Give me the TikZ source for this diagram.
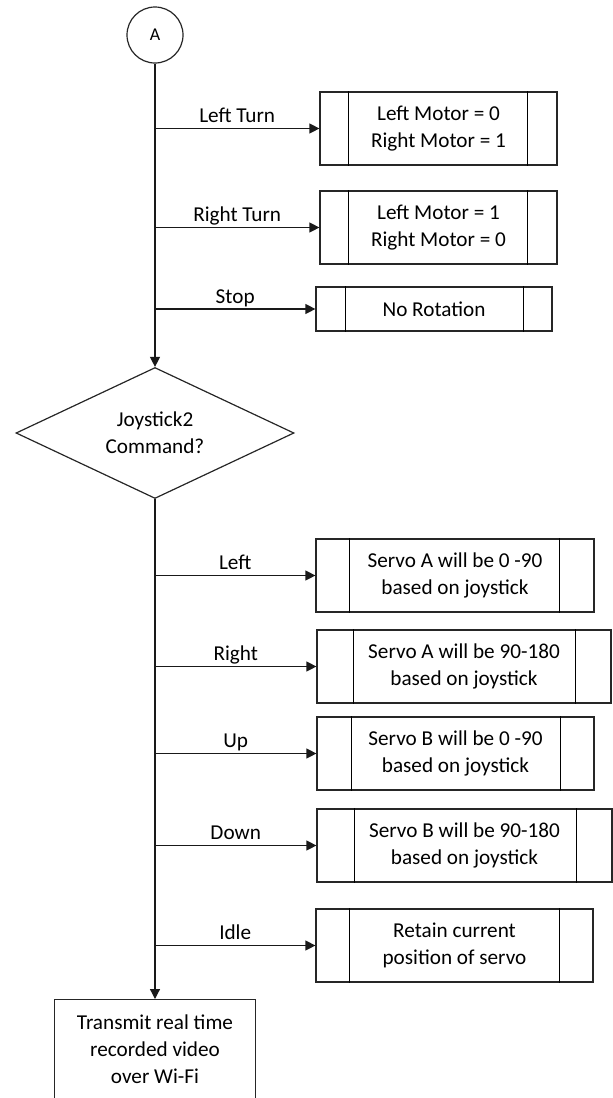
\documentclass[tikz,border=0pt]{standalone}
\usepackage{fontspec}
\setmainfont{Carlito}
\usetikzlibrary{arrows.meta,shapes.geometric}
\newcommand\pplines[3]{%
  \draw ([xshift=#2pt]#1.north west) -- ([xshift=#2pt]#1.south west);
  \draw ([xshift=-#3pt]#1.north east) -- ([xshift=-#3pt]#1.south east);}
\begin{document}
\begin{tikzpicture}[x=1pt,y=-1pt,
  line width=1.2pt,
  every node/.style={font=\fontsize{21.2}{27}\selectfont, text=black},
  proc/.style={draw=black!85, rectangle, inner sep=0pt, align=center, minimum height=73pt},
  arr/.style={draw=black!90, -{Triangle[length=10pt,width=10pt]}},
  lbl/.style={above, inner sep=1pt, text height=14pt, text depth=4pt}
]
\useasboundingbox (0,0) rectangle (613,1098);
\clip (0,0) rectangle (613,1098);

\node[draw=black!85, circle, minimum size=56pt, inner sep=0pt, font=\fontsize{18}{20}\selectfont] (A) at (155,35) {A};

\node[proc, minimum width=237pt] (b1) at (438.5,128.5) {Left Motor = 0\\Right Motor = 1};
\pplines{b1}{29}{30}
\node[proc, minimum width=237pt] (b2) at (438.5,227.5) {Left Motor = 1\\Right Motor = 0};
\pplines{b2}{29}{30}
\node[proc, minimum width=236pt, minimum height=44pt] (b3) at (434,309) {No Rotation};
\pplines{b3}{30}{29}

\node[draw=black!85, diamond, aspect=2.12, minimum width=278pt, minimum height=131pt, inner sep=0pt, align=center] (d) at (155,433) {Joystick2\\Command?};

\node[proc, minimum width=278pt] (s1) at (455,575.5) {Servo A will be 0 -90\\based on joystick};
\pplines{s1}{34}{35}
\node[proc, minimum width=294pt] (s2) at (464,666.5) {Servo A will be 90-180\\based on joystick};
\pplines{s2}{37}{36}
\node[proc, minimum width=277pt] (s3) at (455.5,753.5) {Servo B will be 0 -90\\based on joystick};
\pplines{s3}{35}{34}
\node[proc, minimum width=295pt] (s4) at (464.5,845.5) {Servo B will be 90-180\\based on joystick};
\pplines{s4}{38}{36}
\node[proc, minimum width=277pt] (s5) at (454.5,945.5) {Retain current\\position of servo};
\pplines{s5}{34}{34}

\node[proc, minimum width=201pt, minimum height=100pt, anchor=north] (t) at (155,999) {Transmit real time\\recorded video\\over Wi-Fi};

\draw[arr] (A.south) -- (d.north);
\draw[arr] (d.south) -- (t.north);

\draw[arr] (A.south |- b1.west) -- node[lbl]{Left Turn} (b1.west);
\draw[arr] (A.south |- b2.west) -- node[lbl]{Right Turn} (b2.west);
\draw[arr] (A.south |- b3.west) -- node[lbl]{Stop} (b3.west);

\draw[arr] (d.south |- s1.west) -- node[lbl]{Left} (s1.west);
\draw[arr] (d.south |- s2.west) -- node[lbl]{Right} (s2.west);
\draw[arr] (d.south |- s3.west) -- node[lbl]{Up} (s3.west);
\draw[arr] (d.south |- s4.west) -- node[lbl]{Down} (s4.west);
\draw[arr] (d.south |- s5.west) -- node[lbl]{Idle} (s5.west);
\end{tikzpicture}
\end{document}
